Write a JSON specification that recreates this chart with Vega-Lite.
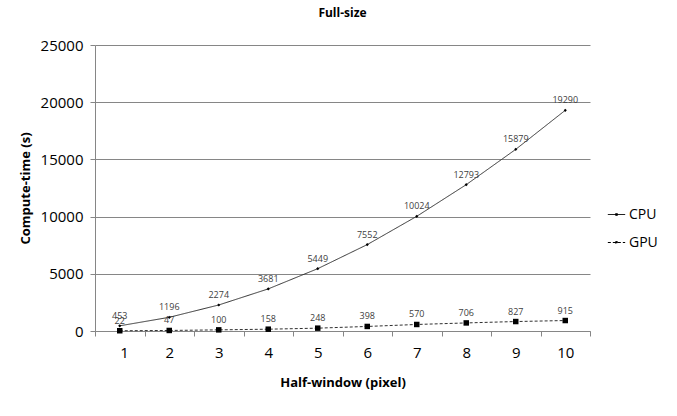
{
  "$schema": "https://vega.github.io/schema/vega-lite/v6.json",
  "autosize": {"type": "none"},
  "width": 495,
  "height": 286,
  "padding": {"left": 95, "top": 45, "right": 87, "bottom": 85},
  "background": "white",
  "config": {
    "view": {"stroke": null},
    "font": "Open Sans",
    "axis": {"labelFont": "Open Sans", "titleFont": "Open Sans"}
  },
  "title": {"text": "Full-size", "fontSize": 12, "fontWeight": "bold", "font": "Open Sans", "color": "#000000", "offset": 18, "anchor": "middle"},
  "data": {
    "values": [
      {"x": 1, "series": "CPU", "t": 453},
      {"x": 2, "series": "CPU", "t": 1196},
      {"x": 3, "series": "CPU", "t": 2274},
      {"x": 4, "series": "CPU", "t": 3681},
      {"x": 5, "series": "CPU", "t": 5449},
      {"x": 6, "series": "CPU", "t": 7552},
      {"x": 7, "series": "CPU", "t": 10024},
      {"x": 8, "series": "CPU", "t": 12793},
      {"x": 9, "series": "CPU", "t": 15879},
      {"x": 10, "series": "CPU", "t": 19290},
      {"x": 1, "series": "GPU", "t": 22},
      {"x": 2, "series": "GPU", "t": 47},
      {"x": 3, "series": "GPU", "t": 100},
      {"x": 4, "series": "GPU", "t": 158},
      {"x": 5, "series": "GPU", "t": 248},
      {"x": 6, "series": "GPU", "t": 398},
      {"x": 7, "series": "GPU", "t": 570},
      {"x": 8, "series": "GPU", "t": 706},
      {"x": 9, "series": "GPU", "t": 827},
      {"x": 10, "series": "GPU", "t": 915}
    ]
  },
  "encoding": {
    "x": {
      "field": "x", "type": "quantitative",
      "scale": {"domain": [0.5, 10.5], "nice": false, "zero": false},
      "axis": {
        "values": [0.5, 1.5, 2.5, 3.5, 4.5, 5.5, 6.5, 7.5, 8.5, 9.5, 10.5],
        "labelExpr": "datum.value < 10 ? format(datum.value + 0.5, 'd') : ''",
        "labelOffset": 24.75,
        "labelFontSize": 15,
        "labelColor": "#000000",
        "labelPadding": 9,
        "tickSize": 5,
        "tickColor": "#868686",
        "domainColor": "#868686",
        "grid": false,
        "title": "Half-window (pixel)",
        "titleFontSize": 13,
        "titleFontWeight": "bold",
        "titleColor": "#000000",
        "titlePadding": 16
      }
    },
    "y": {
      "field": "t", "type": "quantitative",
      "scale": {"domain": [0, 25000], "nice": false},
      "axis": {
        "values": [0, 5000, 10000, 15000, 20000, 25000],
        "format": "d",
        "labelFontSize": 15,
        "labelColor": "#000000",
        "labelPadding": 7,
        "tickSize": 5,
        "tickColor": "#868686",
        "domainColor": "#868686",
        "grid": true,
        "gridColor": "#868686",
        "gridWidth": 1,
        "title": "Compute-time (s)",
        "titleFontSize": 13,
        "titleFontWeight": "bold",
        "titleColor": "#000000",
        "titlePadding": 8
      }
    }
  },
  "layer": [
    {
      "mark": {"type": "line", "strokeWidth": 1, "color": "#303030"},
      "encoding": {
        "detail": {"field": "series"},
        "strokeDash": {
          "field": "series", "type": "nominal",
          "scale": {"domain": ["CPU", "GPU"], "range": [[1, 0], [3, 2]]},
          "legend": {
            "title": null,
            "orient": "none",
            "legendX": 512,
            "legendY": 160,
            "labelFontSize": 14,
            "labelColor": "#000000",
            "symbolType": "M-1,0H1M-0.1,-0.1H0.1V0.1H-0.1Z",
            "symbolSize": 300,
            "symbolStrokeColor": "#000000",
            "symbolFillColor": "#000000",
            "symbolStrokeWidth": 1,
            "rowPadding": 11,
            "labelOffset": 3
          }
        }
      }
    },
    {
      "transform": [{"filter": "datum.series === 'CPU'"}],
      "mark": {"type": "point", "filled": true, "color": "#000000", "opacity": 1, "shape": "diamond", "size": 10}
    },
    {
      "transform": [{"filter": "datum.series === 'GPU'"}],
      "mark": {"type": "point", "filled": true, "color": "#000000", "opacity": 1, "shape": "square", "size": 30}
    },
    {
      "mark": {"type": "text", "fontSize": 9, "dy": -10, "color": "#404040", "font": "Open Sans"},
      "encoding": {
        "text": {"field": "t", "type": "quantitative", "format": "d"}
      }
    }
  ]
}
